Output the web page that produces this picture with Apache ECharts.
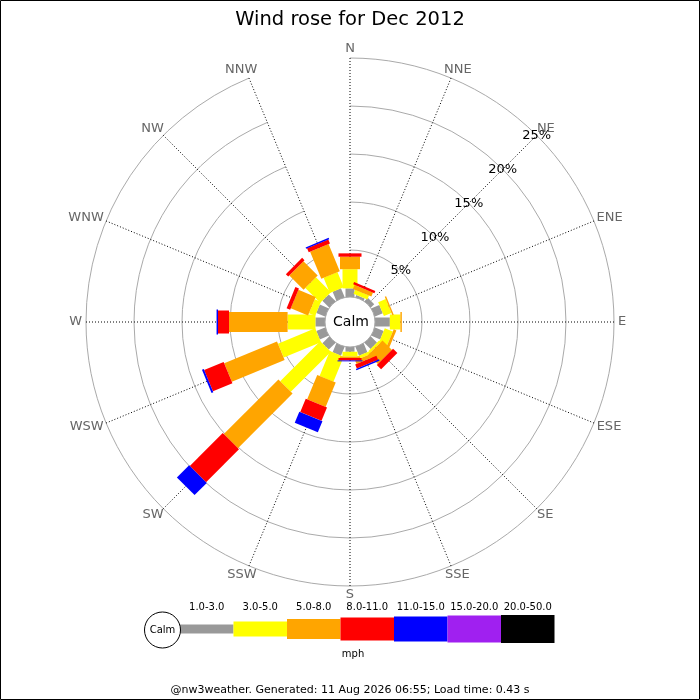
<!DOCTYPE html>
<html>
<head>
<meta charset="utf-8">
<script src="https://cdn.jsdelivr.net/npm/echarts@6/dist/echarts.min.js"></script>
<style>
html,body{margin:0;padding:0;background:#fff;}
#chart{width:700px;height:700px;}
</style>
</head>
<body>
<div id="chart"></div>
<script>
// ---- data ----
const directions = ['N','NNE','NE','ENE','E','ESE','SE','SSE','S','SSW','SW','WSW','W','WNW','NW','NNW'];
const speedBins = ['1.0-3.0','3.0-5.0','5.0-8.0','8.0-11.0','11.0-15.0','15.0-20.0','20.0-50.0'];
const speed1to3   = [1.0, 0.35, 0.6, 1.0, 1.65, 1.1, 1.0, 1.1, 0.6, 1.1, 1.1, 1.1, 1.1, 1.1, 1.1, 1.1];
const speed3to5   = [2.0, 0.45, 0.0, 0.85, 1.1, 0.9, 0.25, 0.3, 0.5, 2.8, 5.9, 4.2, 2.9, 0.7, 2.2, 1.7];
const speed5to8   = [1.3, 0.45, 0.0, 0.15, 0.15, 0.3, 1.4, 0.4, 0.15, 2.75, 8.05, 5.95, 6.1, 1.95, 2.1, 3.05];
const speed8to11  = [0.35, 0.25, 0.0, 0.0, 0.0, 0.0, 0.63, 0.45, 0.25, 1.5, 4.85, 2.2, 1.15, 0.4, 0.35, 0.45];
const speed11to15 = [0.0, 0.0, 0.0, 0.0, 0.0, 0.0, 0.0, 0.15, 0.1, 1.25, 1.8, 0.2, 0.15, 0.0, 0.0, 0.15];
const speed15to20 = [0,0,0,0,0,0,0,0,0,0,0,0,0,0,0,0];
const speed20to50 = [0,0,0,0,0,0,0,0,0,0,0,0,0,0,0,0];
const radiusMax = 25;
const radiusStep = 5;
const unitLabel = 'mph';
const titleText = 'Wind rose for Dec 2012';
const footerText = '@nw3weather. Generated: 11 Aug 2026 06:55; Load time: 0.43 s';

// ---- styling ----
const binValues = [speed1to3, speed3to5, speed5to8, speed8to11, speed11to15, speed15to20, speed20to50];
const binColors = ['#999999','#ffff00','#ffa500','#ff0000','#0000ff','#a020f0','#000000'];
const binWidths = [9, 15, 20, 23, 25, 27, 28];
const FONT = 'DejaVu Sans';
const CX = 350, CY = 322, R0 = 24, R1 = 264;

const measureCtx = document.createElement('canvas').getContext('2d');
measureCtx.font = '13px "DejaVu Sans"';

// cumulative stacking
const cum = directions.map(() => 0);
const series = binValues.map((vals, b) => {
  const data = vals.map((v, i) => {
    const start = cum[i];
    cum[i] += v;
    return [start, cum[i], i];
  });
  const w = binWidths[b];
  const color = binColors[b];
  return {
    type: 'custom',
    name: speedBins[b],
    coordinateSystem: 'polar',
    polarIndex: 0,
    encode: { radius: [0, 1], angle: 2 },
    data: data,
    z: 2 + b,
    silent: true,
    renderItem: function (params, api) {
      const a = api.value(0), e = api.value(1), d = api.value(2);
      if (!(e > a)) return null;
      const p0 = api.coord([a, d]);
      const p1 = api.coord([e, d]);
      const cs = params.coordSys;
      const dx = p1[0] - cs.cx, dy = p1[1] - cs.cy;
      const len = Math.sqrt(dx * dx + dy * dy) || 1;
      const nx = -dy / len * w / 2, ny = dx / len * w / 2;
      return {
        type: 'polygon',
        shape: { points: [
          [p0[0] + nx, p0[1] + ny], [p1[0] + nx, p1[1] + ny],
          [p1[0] - nx, p1[1] - ny], [p0[0] - nx, p0[1] - ny]
        ] },
        style: { fill: color }
      };
    }
  };
});

// direction labels placed just outside the outer ring
series.push({
  type: 'custom',
  name: 'directions',
  coordinateSystem: 'polar',
  polarIndex: 0,
  encode: { radius: 0, angle: 1 },
  data: directions.map((d, i) => [radiusMax, i]),
  z: 20,
  silent: true,
  renderItem: function (params, api) {
    const i = api.value(1);
    const p = api.coord([api.value(0), i]);
    const cs = params.coordSys;
    const dx = p[0] - cs.cx, dy = p[1] - cs.cy;
    const len = Math.sqrt(dx * dx + dy * dy) || 1;
    const ux = dx / len, uy = dy / len;
    const txt = directions[i];
    const tw = measureCtx.measureText(txt).width;
    const th = 10;
    const gap = 4;
    return {
      type: 'text',
      style: {
        text: txt,
        x: p[0] + ux * gap + ux * tw / 2,
        y: p[1] + uy * gap + uy * th / 2,
        align: 'center', verticalAlign: 'middle',
        fontSize: 13, fontFamily: FONT, fill: '#666'
      }
    };
  }
});

// legend graphics
const legendX0 = 180, legendStep = 53.5, legendCY = 629;
const graphics = [];
graphics.push({ type: 'rect', z: 200, shape: { x: 0.5, y: 0.5, width: 699, height: 699 },
  style: { fill: 'none', stroke: '#000', lineWidth: 1 } });
graphics.push({ type: 'circle', z: 100, shape: { cx: CX, cy: CY, r: 25 },
  style: { fill: '#fff', stroke: '#aaaaaa', lineWidth: 1 } });
graphics.push({ type: 'text', z: 101, style: { text: 'Calm', x: CX + 1, y: CY, align: 'center', verticalAlign: 'middle',
  fontSize: 14, fontFamily: FONT, fill: '#000' } });
speedBins.forEach((lab, i) => {
  const h = binWidths[i];
  graphics.push({ type: 'rect', z: 100, shape: { x: legendX0 + i * legendStep, y: legendCY - h / 2, width: legendStep, height: h },
    style: { fill: binColors[i] } });
  graphics.push({ type: 'text', z: 100, style: { text: lab, x: legendX0 + i * legendStep + legendStep / 2, y: 607,
    align: 'center', verticalAlign: 'middle', fontSize: 10, fontFamily: FONT, fill: '#000' } });
});
graphics.push({ type: 'circle', z: 101, shape: { cx: 162.5, cy: 630, r: 18 },
  style: { fill: '#fff', stroke: '#000', lineWidth: 1 } });
graphics.push({ type: 'text', z: 102, style: { text: 'Calm', x: 162.5, y: 630, align: 'center', verticalAlign: 'middle',
  fontSize: 10, fontFamily: FONT, fill: '#000' } });
graphics.push({ type: 'text', z: 100, style: { text: unitLabel, x: 353, y: 654, align: 'center', verticalAlign: 'middle',
  fontSize: 10, fontFamily: FONT, fill: '#000' } });
graphics.push({ type: 'text', z: 100, style: { text: footerText, x: 350, y: 690, align: 'center', verticalAlign: 'middle',
  fontSize: 11, fontFamily: FONT, fill: '#000' } });

const chart = echarts.init(document.getElementById('chart'), null, { renderer: 'canvas' });
chart.setOption({
  animation: false,
  backgroundColor: '#fff',
  title: { text: titleText, left: 'center', top: 5,
    textStyle: { fontSize: 19.5, fontWeight: 'normal', color: '#000', fontFamily: FONT } },
  polar: [
    { center: [CX, CY], radius: [R0, R1] },
    { center: [CX, CY], radius: [R0, R1] }
  ],
  angleAxis: [
    { polarIndex: 0, type: 'category', data: directions, boundaryGap: false, startAngle: 90, clockwise: true,
      axisLine: { show: false }, axisTick: { show: false }, axisLabel: { show: false },
      splitLine: { show: true, lineStyle: { color: '#000', width: 1, type: [1, 2] } } },
    { polarIndex: 1, type: 'value', min: 0, max: 360, startAngle: 45, show: false }
  ],
  radiusAxis: [
    { polarIndex: 0, type: 'value', min: 0, max: radiusMax, interval: radiusStep,
      axisLine: { show: false }, axisTick: { show: false }, axisLabel: { show: false },
      splitLine: { show: true, lineStyle: { color: '#aaaaaa', width: 1 } } },
    { polarIndex: 1, type: 'value', min: 0, max: radiusMax, interval: radiusStep, z: 50,
      axisLine: { show: false }, axisTick: { show: false }, splitLine: { show: false },
      axisLabel: { show: true, margin: 0, rotate: 0, align: 'center', verticalAlign: 'middle',
        color: '#000', fontSize: 13, fontFamily: FONT,
        formatter: v => (v === 0 ? '' : v + '%') } }
  ],
  series: series,
  graphic: { elements: graphics }
});
</script>
</body>
</html>
